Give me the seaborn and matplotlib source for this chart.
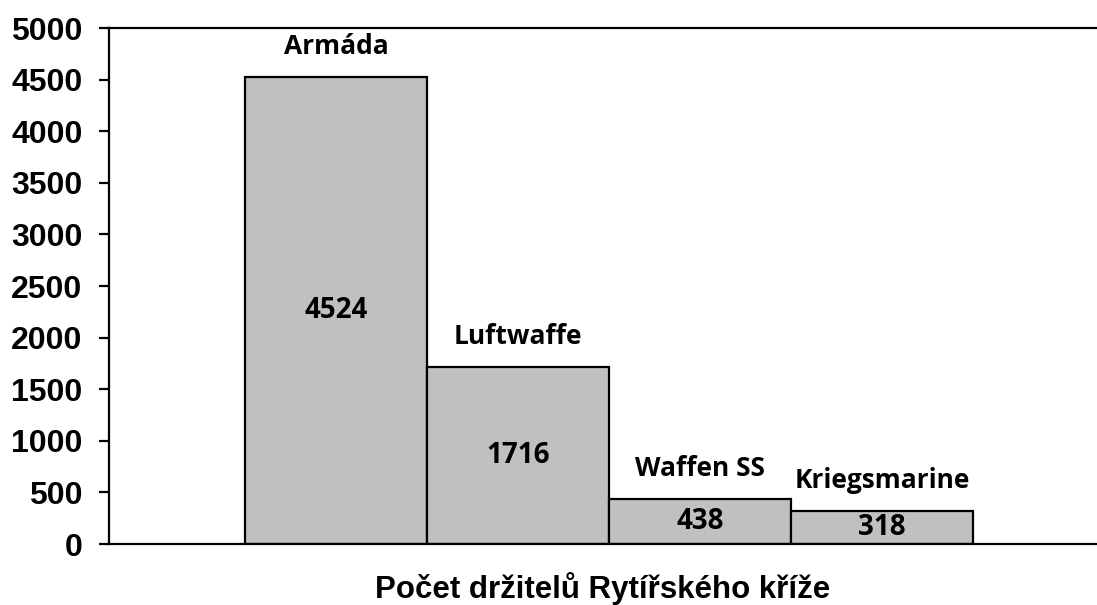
import matplotlib
matplotlib.use("Agg")
import matplotlib.pyplot as plt
import seaborn as sns
import pandas as pd

categories = ["Armáda", "Luftwaffe", "Waffen SS", "Kriegsmarine"]
values = [4524, 1716, 438, 318]
y_ticks = [0, 500, 1000, 1500, 2000, 2500, 3000, 3500, 4000, 4500, 5000]
x_title = "Počet držitelů Rytířského kříže"

sns.set_theme(style="white")
plt.rcParams["font.family"] = ["Liberation Sans", "DejaVu Sans"]

df = pd.DataFrame({"cat": categories, "val": values})

fig = plt.figure(figsize=(10.97, 6.05), dpi=100)
ax = fig.add_axes([109 / 1097, 1 - 544 / 605, 1 - 109 / 1097, (544 - 28) / 605])

sns.barplot(data=df, x="cat", y="val", ax=ax, color="#C0C0C0", saturation=1,
            width=1.0, edgecolor="black", linewidth=1.6)

ax.set_xlim(-1.2473, 4.181)
ax.set_ylim(0, 5000)
ax.set_yticks(y_ticks)
ax.set_yticklabels([str(t) for t in y_ticks], fontsize=23, fontweight="bold",
                   family=["Liberation Sans", "DejaVu Sans"])
ax.tick_params(axis="y", direction="out", length=7, width=1.6, pad=12, left=True,
               colors="black", labelcolor="black")
ax.tick_params(axis="x", bottom=False, labelbottom=False)
ax.set_xlabel(x_title, fontsize=22.5, fontweight="bold", labelpad=20, color="black",
              family=["Liberation Sans", "DejaVu Sans"])
ax.set_ylabel("")

for side in ["left", "top", "bottom"]:
    ax.spines[side].set_visible(True)
    ax.spines[side].set_color("black")
    ax.spines[side].set_linewidth(1.6)
ax.spines["right"].set_visible(False)

lab_font = ["Open Sans", "DejaVu Sans"]
for i, (c, v) in enumerate(zip(categories, values)):
    ax.annotate(c, xy=(i, v), xytext=(0, 22), textcoords="offset points",
                ha="center", va="center", fontsize=19, fontweight="bold",
                family=lab_font, color="black")
    ax.text(i, v / 2, str(v), ha="center", va="center", fontsize=20,
            fontweight="bold", family=lab_font, color="black")

fig.savefig("out.png", dpi=100)
